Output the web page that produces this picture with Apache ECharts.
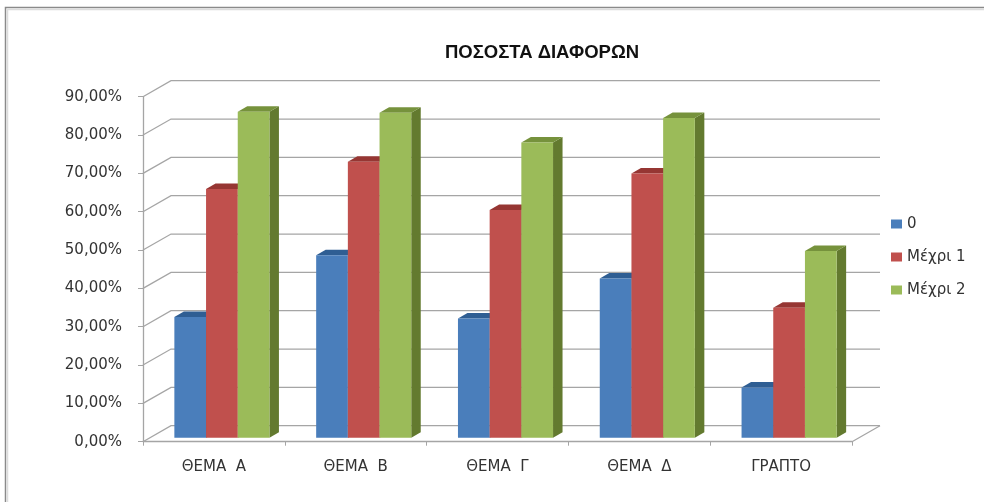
<!DOCTYPE html>
<html>
<head>
<meta charset="utf-8">
<script src="https://cdn.jsdelivr.net/npm/echarts@6/dist/echarts.min.js"></script>
<style>
html,body{margin:0;padding:0;background:#fff;}
#c{width:984px;height:502px;}
</style>
</head>
<body>
<div id="c"></div>
<script>
// ---- data ----
const categories = ['ΘΕΜΑ  Α', 'ΘΕΜΑ  Β', 'ΘΕΜΑ  Γ', 'ΘΕΜΑ  Δ', 'ΓΡΑΠΤΟ'];
const seriesNames = ['0', 'Μέχρι 1', 'Μέχρι 2'];
const values0 = [31.5, 47.6, 31.1, 41.5, 13.1];
const values1 = [64.9, 72.0, 59.4, 68.9, 33.9];
const values2 = [85.0, 84.8, 77.0, 83.4, 48.7];
const yTicks = [0, 10, 20, 30, 40, 50, 60, 70, 80, 90];
const titleText = 'ΠΟΣΟΣΤΑ ΔΙΑΦΟΡΩΝ';

// ---- style ----
const colors = [
  {front: '#4A7EBB', top: '#2F5E93', side: '#2B5484'},
  {front: '#C0504D', top: '#963633', side: '#8E3431'},
  {front: '#9BBB59', top: '#76923C', side: '#637A2F'}
];
const DX = 28, DY = 16;      // wall depth
const FX = 8, FY = 4;        // bar front face depth offset
const BX = 9.5, BY = 5.5;    // bar depth
const gridColor = '#A5A5A5';

const chart = echarts.init(document.getElementById('c'), null, {renderer: 'canvas'});

function wallRender(params, api) {
  const cs = params.coordSys;
  const v = api.value(1);
  const y = api.coord([0, v])[1];
  const xl = cs.x, xr = cs.x + cs.width;
  const children = [{
    type: 'polyline',
    shape: {points: [[xl, y], [xl + DX, y - DY], [xr + DX, y - DY]]},
    style: {stroke: gridColor, lineWidth: 1.3, fill: null}
  }];
  if (v === 0) {
    children.push({
      type: 'line',
      shape: {x1: xr, y1: y, x2: xr + DX, y2: y - DY},
      style: {stroke: gridColor, lineWidth: 1.3}
    });
  }
  return {type: 'group', children: children};
}

function makeBarRender(sIdx) {
  const c = colors[sIdx];
  return function (params, api) {
    const idx = api.value(0), v = api.value(1);
    const top = api.coord([idx, v]);
    const bot = api.coord([idx, 0]);
    const band = api.size([1, 0])[0];
    const bw = band * 0.2235;
    const x0 = top[0] - 1.5 * bw + sIdx * bw + FX;
    const x1 = x0 + bw;
    const yT = top[1] - FY, yB = bot[1] - FY;
    return {
      type: 'group',
      children: [
        {type: 'polygon', shape: {points: [[x1, yB], [x1 + BX, yB - BY], [x1 + BX, yT - BY], [x1, yT]]},
          style: {fill: c.side}},
        {type: 'polygon', shape: {points: [[x0, yT], [x1, yT], [x1 + BX, yT - BY], [x0 + BX, yT - BY]]},
          style: {fill: c.top}},
        {type: 'rect', shape: {x: x0, y: yT, width: bw, height: yB - yT},
          style: {fill: c.front}}
      ]
    };
  };
}

const allValues = [values0, values1, values2];
const barSeries = seriesNames.map((name, s) => ({
  name: name,
  type: 'custom',
  z: 3 + s,
  itemStyle: {color: colors[s].front},
  renderItem: makeBarRender(s),
  encode: {x: 0, y: 1},
  data: allValues[s].map((v, i) => [i, v])
}));

const option = {
  backgroundColor: '#ffffff',
  animation: false,
  title: {
    text: titleText,
    left: 537, top: 38,
    textAlign: 'center',
    textStyle: {fontFamily: 'Liberation Sans, sans-serif', fontWeight: 'bold', fontSize: 18.5, color: '#111'}
  },
  legend: {
    orient: 'vertical',
    left: 886, top: 210,
    itemWidth: 11, itemHeight: 9,
    itemGap: 15,
    itemTextGap: 5,
    icon: 'rect',
    data: seriesNames,
    textStyle: {fontFamily: 'DejaVu Sans', fontSize: 15, color: '#333', lineHeight: 18}
  },
  grid: {left: 143, right: 132, top: 96.7, bottom: 60.3, containLabel: false},
  xAxis: {
    type: 'category',
    data: categories,
    boundaryGap: true,
    axisLine: {show: true, lineStyle: {color: gridColor, width: 1.3}},
    axisTick: {show: true, length: 4, lineStyle: {color: gridColor}},
    axisLabel: {fontFamily: 'DejaVu Sans', fontSize: 15, color: '#333', margin: 18},
    splitLine: {show: false}
  },
  yAxis: {
    type: 'value',
    min: 0, max: 90, interval: 10,
    axisLine: {show: true, lineStyle: {color: gridColor, width: 1.3}},
    axisTick: {show: true, length: 5, lineStyle: {color: gridColor}},
    axisLabel: {
      fontFamily: 'DejaVu Sans', fontSize: 15, color: '#333', margin: 21,
      formatter: v => v.toFixed(2).replace('.', ',') + '%'
    },
    splitLine: {show: false}
  },
  graphic: [
    {type: 'rect', shape: {x: 5.5, y: 7.5, width: 1000, height: 520},
      style: {fill: null, stroke: '#8a8a8a', lineWidth: 1.5}, z: 100},
    {type: 'rect', shape: {x: 7.5, y: 9.5, width: 1000, height: 520},
      style: {fill: null, stroke: '#dcdcdc', lineWidth: 1.5}, z: 100}
  ],
  series: [{
    name: '__walls',
    type: 'custom',
    z: 1,
    silent: true,
    renderItem: wallRender,
    encode: {x: 0, y: 1},
    data: yTicks.map(v => [0, v])
  }].concat(barSeries)
};
chart.setOption(option);
</script>
</body>
</html>
